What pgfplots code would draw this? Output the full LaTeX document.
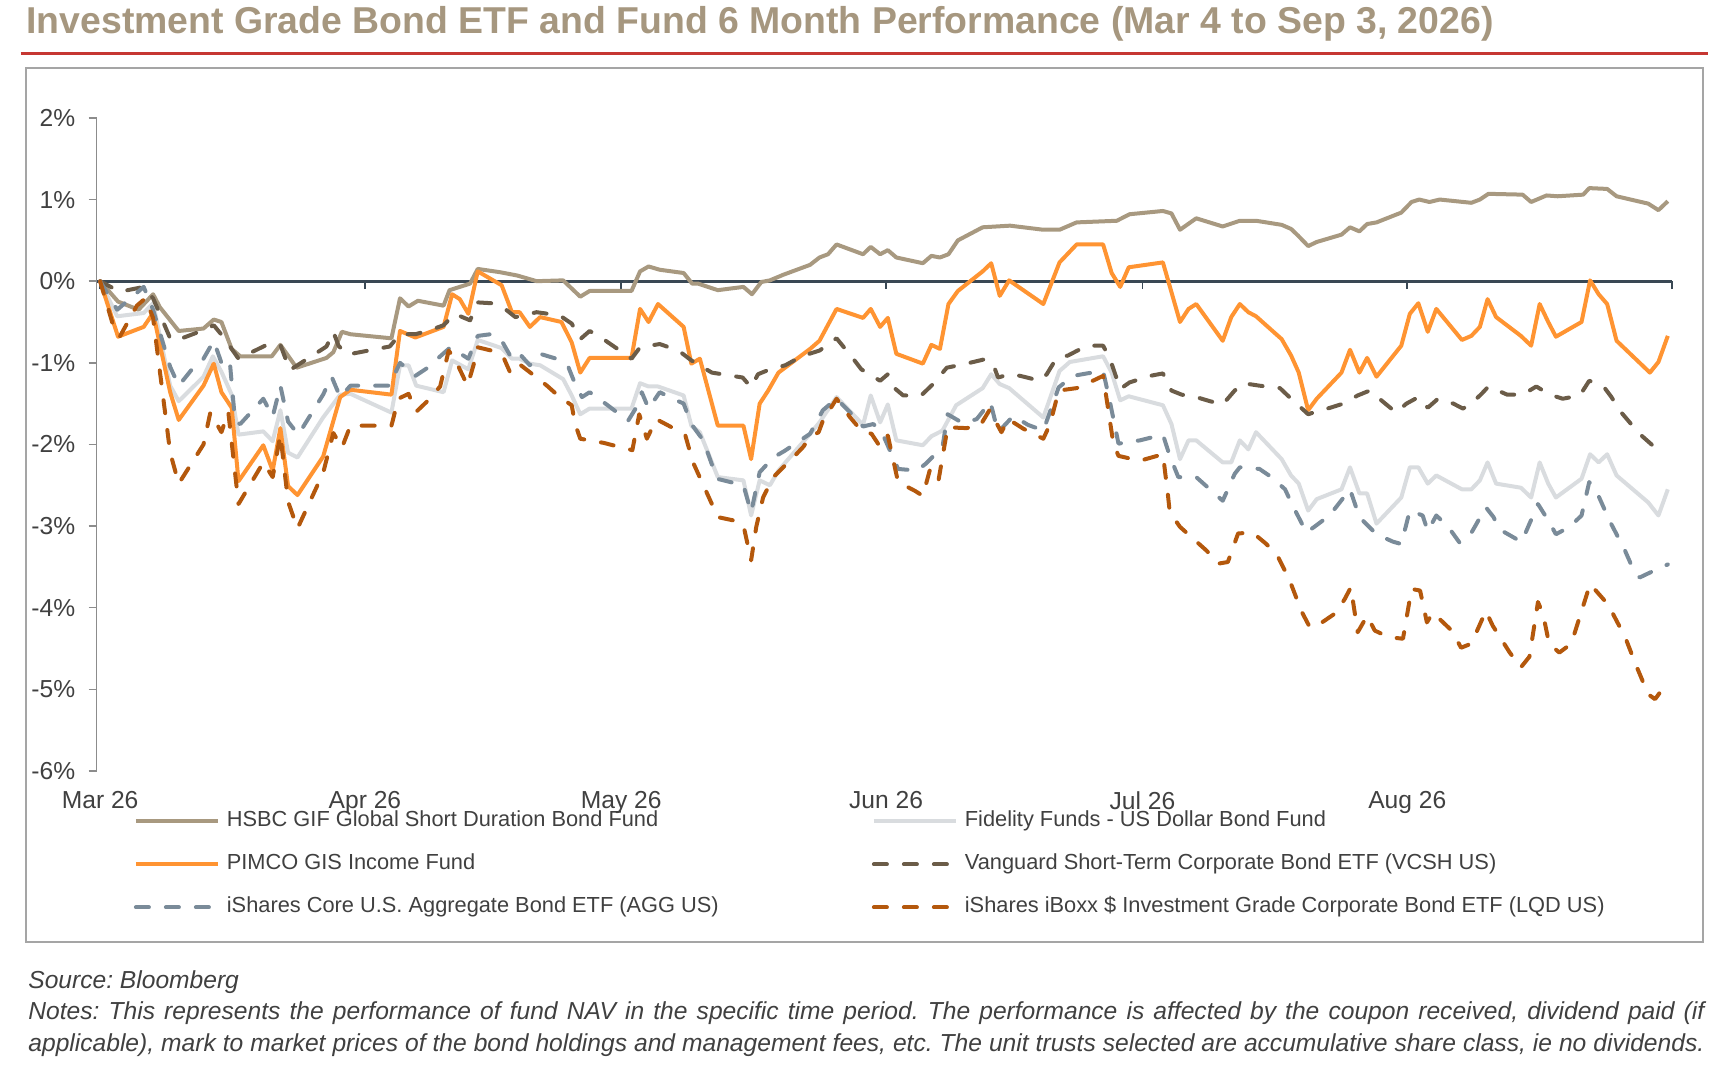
\documentclass[border=0pt]{standalone}
\usepackage{fontspec}
\setmainfont{Liberation Sans}
\usepackage{pgfplots}
\pgfplotsset{compat=1.18}
\definecolor{titlec}{RGB}{166,151,127}
\definecolor{redc}{RGB}{198,55,50}
\definecolor{framec}{RGB}{165,165,165}
\definecolor{txtc}{RGB}{64,64,64}
\definecolor{zeroc}{RGB}{58,72,84}
\definecolor{axisc}{RGB}{140,140,140}
\definecolor{hsbc}{RGB}{168,153,128}
\definecolor{fid}{RGB}{217,220,223}
\definecolor{pimco}{RGB}{255,148,50}
\definecolor{vcsh}{RGB}{107,92,72}
\definecolor{agg}{RGB}{122,139,153}
\definecolor{lqd}{RGB}{180,88,12}
\frenchspacing
\begin{document}
\begin{tikzpicture}[x=1pt,y=1pt]
\useasboundingbox (0,0) rectangle (857.5,534.5);
\node[anchor=base west, inner sep=0pt, text=titlec, font=\fontsize{18.7}{20}\selectfont\bfseries] at (13,517.5) {Investment Grade Bond ETF and Fund 6 Month Performance (Mar 4 to Sep 3, 2026)};
\draw[redc, line width=1.65pt] (10.3,507.85) -- (854,507.85);
\draw[framec, line width=1pt] (13,63.65) rectangle (851.5,500.35);
\begin{axis}[
  at={(48.35pt,149pt)}, anchor=south west, scale only axis,
  width=787.7pt, height=326.55pt,
  xmin=-0.4, xmax=184, ymin=-6, ymax=2,
  enlargelimits=false, clip=false,
  axis x line=middle, axis y line=left,
  axis line style={-},
  x axis line style={draw=zeroc, line width=1.4pt},
  y axis line style={draw=axisc, line width=0.75pt},
  xtick={0,31,61,92,122,153,184},
  xticklabels={Mar 26,Apr 26,May 26,Jun 26,Jul 26,Aug 26,},
  ytick={-6,-5,-4,-3,-2,-1,0,1,2},
  yticklabels={-6\%,-5\%,-4\%,-3\%,-2\%,-1\%,0\%,1\%,2\%},
  tick align=outside, major tick length=4pt,
  x tick style={draw=zeroc, line width=0.9pt},
  y tick style={draw=axisc, line width=0.75pt},
  ticklabel style={font=\fontsize{12.3}{14}\selectfont, text=txtc},
  xticklabel style={yshift=-247.7pt},
  yticklabel style={xshift=-3.25pt},
  legend columns=2,
  legend cell align=left,
  legend style={at={(0.02361,-0.06125)}, anchor=north west, draw=none, fill=none,
    inner sep=0pt, outer sep=0pt, column sep=3.5pt, row sep=11pt,
    font=\fontsize{10.9}{12}\selectfont, text=txtc,
    nodes={inner sep=0pt, text height=8pt, text depth=2.5pt}},
  legend image code/.code={\draw[#1] (0pt,0pt) -- (41pt,0pt);},
  every axis plot/.append style={line width=2pt, line join=round},
]
\addplot[hsbc] coordinates {(0,0) (2.1,-0.25) (4.5,-0.35) (6.2,-0.16) (7.0,-0.32) (9.2,-0.61) (12.1,-0.58) (13.3,-0.47) (14.2,-0.50) (15.4,-0.83) (16.4,-0.92) (20.1,-0.92) (21.1,-0.78) (23.0,-1.06) (26.5,-0.94) (27.3,-0.87) (28.3,-0.62) (29.3,-0.65) (34.1,-0.70) (35.1,-0.21) (36.1,-0.31) (37.2,-0.24) (40.2,-0.30) (40.9,-0.11) (43.3,-0.03) (44.2,0.15) (46.8,0.11) (48.8,0.07) (51.1,0.0) (54.2,0.01) (56.2,-0.19) (57.3,-0.12) (62.2,-0.12) (63.2,0.12) (64.2,0.18) (65.5,0.14) (68.3,0.10) (69.3,-0.03) (70.0,-0.03) (72.3,-0.11) (75.3,-0.07) (76.3,-0.16) (77.4,-0.01) (78.4,0.01) (80.0,0.08) (83.1,0.20) (84.2,0.29) (85.2,0.33) (86.2,0.45) (89.3,0.33) (90.2,0.42) (91.3,0.33) (92.2,0.38) (93.2,0.29) (96.3,0.22) (97.3,0.31) (98.3,0.29) (99.3,0.33) (100.4,0.50) (103.3,0.66) (106.5,0.68) (110.4,0.63) (112.3,0.63) (114.3,0.72) (119.0,0.74) (120.5,0.82) (124.4,0.86) (125.4,0.83) (126.4,0.63) (128.3,0.77) (131.4,0.67) (133.4,0.74) (135.3,0.74) (138.3,0.69) (139.4,0.64) (140.2,0.56) (141.4,0.43) (142.4,0.48) (145.3,0.57) (146.3,0.66) (147.4,0.61) (148.3,0.70) (149.4,0.72) (152.3,0.84) (153.5,0.97) (154.4,1.00) (155.6,0.97) (156.8,1.00) (160.5,0.96) (161.5,1.00) (162.5,1.07) (166.5,1.06) (167.5,0.97) (169.3,1.05) (170.6,1.04) (173.6,1.06) (174.3,1.14) (176.4,1.13) (177.5,1.04) (181.2,0.95) (182.4,0.87) (183.5,0.98)};
\addlegendentry{\makebox[319pt][l]{HSBC GIF Global Short Duration Bond Fund}}
\addplot[fid] coordinates {(0,0) (2.0,-0.43) (5.1,-0.39) (6.2,-0.27) (8.2,-1.28) (9.2,-1.47) (12.1,-1.17) (13.2,-0.92) (14.2,-1.11) (15.4,-1.39) (16.2,-1.88) (19.1,-1.84) (20.2,-1.96) (21.1,-1.58) (22.0,-2.10) (23.1,-2.16) (26.1,-1.67) (28.1,-1.39) (29.3,-1.38) (34.1,-1.61) (35.1,-1.03) (36.1,-1.03) (37.0,-1.28) (40.2,-1.36) (41.2,-0.97) (43.1,-1.08) (44.2,-0.72) (47.0,-0.82) (48.2,-0.95) (49.1,-0.95) (50.3,-1.01) (51.5,-1.03) (54.2,-1.20) (55.2,-1.40) (56.2,-1.63) (57.3,-1.56) (62.2,-1.56) (63.2,-1.25) (64.2,-1.29) (65.3,-1.29) (68.3,-1.40) (69.2,-1.77) (70.2,-1.85) (72.3,-2.40) (75.3,-2.44) (76.2,-2.87) (77.2,-2.44) (78.4,-2.50) (79.4,-2.32) (83.1,-1.87) (84.2,-1.73) (86.2,-1.42) (89.3,-1.76) (90.2,-1.40) (91.3,-1.73) (92.2,-1.51) (93.2,-1.95) (96.3,-2.01) (97.3,-1.90) (98.6,-1.83) (100.2,-1.52) (103.3,-1.31) (104.3,-1.14) (105.3,-1.26) (106.4,-1.31) (110.4,-1.67) (112.3,-1.10) (113.5,-0.99) (117.4,-0.92) (118.4,-1.12) (119.4,-1.46) (120.4,-1.41) (124.4,-1.52) (125.4,-1.75) (126.4,-2.18) (127.4,-1.95) (128.3,-1.95) (131.4,-2.22) (132.4,-2.22) (133.4,-1.95) (134.4,-2.06) (135.3,-1.85) (138.3,-2.18) (139.4,-2.38) (140.3,-2.48) (141.4,-2.81) (142.4,-2.67) (145.3,-2.55) (146.3,-2.28) (147.4,-2.60) (148.3,-2.60) (149.4,-2.97) (152.3,-2.65) (153.3,-2.28) (154.3,-2.28) (155.4,-2.48) (156.4,-2.38) (159.4,-2.55) (160.5,-2.55) (161.5,-2.44) (162.4,-2.22) (163.4,-2.48) (166.3,-2.53) (167.5,-2.65) (168.5,-2.22) (169.5,-2.48) (170.4,-2.65) (173.4,-2.42) (174.4,-2.12) (175.4,-2.22) (176.4,-2.12) (177.5,-2.38) (181.2,-2.71) (182.4,-2.87) (183.5,-2.55)};
\addlegendentry{Fidelity Funds - US Dollar Bond Fund}
\addplot[pimco] coordinates {(0,0) (2.1,-0.68) (5.1,-0.56) (6.2,-0.39) (8.2,-1.36) (9.2,-1.70) (12.1,-1.28) (13.3,-1.01) (14.2,-1.36) (15.4,-1.55) (16.2,-2.45) (19.1,-2.01) (20.2,-2.32) (21.1,-1.80) (22.0,-2.51) (23.1,-2.62) (26.1,-2.15) (28.1,-1.42) (29.3,-1.33) (34.1,-1.39) (35.1,-0.61) (36.9,-0.69) (40.2,-0.56) (41.2,-0.16) (42.1,-0.22) (43.1,-0.40) (44.2,0.12) (47.0,-0.05) (48.2,-0.38) (49.1,-0.38) (50.3,-0.56) (51.5,-0.44) (54.0,-0.50) (55.2,-0.75) (56.2,-1.12) (57.3,-0.94) (62.2,-0.94) (63.2,-0.34) (64.2,-0.50) (65.3,-0.28) (68.3,-0.56) (69.2,-1.01) (70.2,-0.95) (72.3,-1.77) (75.3,-1.77) (76.2,-2.18) (77.2,-1.50) (78.2,-1.34) (79.4,-1.12) (83.1,-0.83) (84.2,-0.73) (86.2,-0.34) (89.3,-0.45) (90.2,-0.34) (91.3,-0.56) (92.2,-0.45) (93.2,-0.89) (96.3,-1.01) (97.3,-0.78) (98.3,-0.83) (99.3,-0.28) (100.4,-0.12) (103.3,0.12) (104.3,0.22) (105.3,-0.18) (106.4,0.01) (110.4,-0.28) (112.3,0.23) (114.3,0.45) (117.4,0.45) (118.4,0.10) (119.4,-0.07) (120.4,0.17) (124.4,0.23) (126.4,-0.50) (127.4,-0.34) (128.3,-0.28) (131.4,-0.73) (132.4,-0.44) (133.4,-0.28) (134.4,-0.38) (135.3,-0.43) (138.3,-0.71) (139.4,-0.91) (140.3,-1.12) (141.4,-1.58) (142.4,-1.44) (145.3,-1.12) (146.3,-0.84) (147.4,-1.12) (148.3,-0.94) (149.4,-1.17) (152.3,-0.79) (153.3,-0.40) (154.3,-0.27) (155.4,-0.62) (156.4,-0.34) (159.4,-0.72) (160.5,-0.67) (161.5,-0.56) (162.4,-0.22) (163.4,-0.44) (166.3,-0.67) (167.5,-0.79) (168.5,-0.28) (169.5,-0.50) (170.4,-0.68) (173.4,-0.50) (174.4,0.01) (175.4,-0.16) (176.4,-0.28) (177.5,-0.73) (181.4,-1.12) (182.4,-0.99) (183.5,-0.67)};
\addlegendentry{\makebox[319pt][l]{PIMCO GIS Income Fund}}
\addplot[vcsh, line cap=round, dash pattern=on 6.5pt off 8.5pt] coordinates {(0,0) (2.3,-0.13) (5.1,-0.07) (6.2,-0.21) (8.2,-0.70) (8.8,-0.73) (12.1,-0.60) (13.3,-0.54) (14.4,-0.68) (16.2,-0.95) (19.3,-0.79) (21.1,-0.78) (22.2,-1.09) (26.5,-0.80) (27.3,-0.62) (27.9,-0.79) (28.9,-0.90) (33.9,-0.80) (35.1,-0.65) (36.9,-0.65) (38.6,-0.60) (40.2,-0.54) (41.5,-0.40) (43.3,-0.48) (44.2,-0.26) (45.8,-0.27) (47.4,-0.34) (48.6,-0.44) (51.1,-0.38) (53.8,-0.42) (55.2,-0.52) (56.2,-0.71) (57.3,-0.61) (58.9,-0.71) (60.7,-0.84) (62.2,-0.95) (63.2,-0.81) (65.5,-0.77) (67.7,-0.85) (69.2,-0.97) (71.6,-1.12) (75.2,-1.18) (76.2,-1.30) (77.0,-1.14) (78.4,-1.08) (80.2,-1.03) (82.1,-0.92) (84.2,-0.85) (86.2,-0.70) (88.0,-0.93) (89.1,-1.08) (91.3,-1.22) (92.2,-1.14) (93.1,-1.32) (94.0,-1.40) (96.1,-1.40) (97.5,-1.26) (99.1,-1.06) (101.4,-1.01) (103.4,-0.96) (104.5,-1.01) (105.1,-1.18) (106.5,-1.14) (107.7,-1.16) (110.0,-1.22) (110.8,-1.14) (111.9,-0.95) (113.3,-0.91) (115.5,-0.79) (117.4,-0.79) (118.2,-0.95) (119.4,-1.32) (120.5,-1.24) (122.9,-1.16) (124.4,-1.13) (125.4,-1.34) (126.6,-1.39) (128.3,-1.42) (129.9,-1.47) (131.4,-1.51) (132.8,-1.34) (133.8,-1.25) (135.7,-1.28) (138.1,-1.31) (139.2,-1.42) (141.4,-1.63) (142.0,-1.61) (144.0,-1.55) (145.5,-1.50) (147.2,-1.40) (148.6,-1.34) (150.2,-1.48) (151.7,-1.61) (152.9,-1.50) (154.3,-1.42) (155.4,-1.55) (156.6,-1.44) (158.4,-1.50) (159.5,-1.56) (160.3,-1.52) (161.7,-1.38) (162.5,-1.29) (164.7,-1.39) (166.5,-1.39) (168.1,-1.29) (169.7,-1.39) (171.2,-1.44) (173.2,-1.40) (174.3,-1.22) (175.9,-1.28) (176.9,-1.42) (177.9,-1.59) (179.2,-1.75) (180.4,-1.89) (181.7,-2.01) (183.3,-1.93)};
\addlegendentry{Vanguard Short-Term Corporate Bond ETF (VCSH US)}
\addplot[agg, line cap=round, dash pattern=on 6.5pt off 8.5pt] coordinates {(0,0) (2.0,-0.35) (5.1,-0.07) (6.2,-0.35) (8.2,-1.05) (9.2,-1.28) (10.9,-1.06) (12.1,-0.95) (13.3,-0.73) (14.4,-1.06) (15.2,-1.01) (15.8,-1.72) (16.4,-1.75) (19.1,-1.44) (20.2,-1.66) (21.1,-1.28) (22.0,-1.72) (23.2,-1.88) (26.1,-1.39) (27.1,-1.17) (28.1,-1.42) (29.3,-1.28) (33.9,-1.28) (34.3,-1.18) (35.1,-1.00) (36.9,-1.16) (38.2,-1.07) (41.0,-0.81) (43.1,-0.95) (44.2,-0.67) (45.7,-0.65) (46.9,-0.71) (48.2,-0.95) (49.1,-0.89) (50.3,-1.03) (51.5,-0.89) (53.4,-0.95) (54.8,-1.05) (55.6,-1.26) (56.4,-1.42) (57.3,-1.36) (58.9,-1.48) (61.8,-1.71) (62.8,-1.54) (63.4,-1.36) (64.2,-1.56) (65.5,-1.36) (68.3,-1.50) (69.2,-1.75) (70.6,-1.95) (72.2,-2.42) (75.3,-2.50) (76.2,-2.83) (77.2,-2.34) (78.8,-2.16) (80.1,-2.08) (83.1,-1.87) (84.6,-1.58) (86.2,-1.44) (88.0,-1.63) (89.3,-1.78) (90.5,-1.75) (91.5,-1.85) (93.4,-2.30) (95.6,-2.32) (96.6,-2.24) (98.6,-2.03) (99.2,-1.63) (101.0,-1.74) (102.6,-1.69) (104.2,-1.48) (105.1,-1.85) (106.9,-1.65) (108.6,-1.76) (110.4,-1.83) (112.2,-1.30) (113.9,-1.16) (115.5,-1.13) (117.4,-1.10) (118.2,-1.48) (119.2,-1.99) (121.7,-1.95) (124.4,-1.88) (125.2,-2.14) (126.2,-2.40) (128.3,-2.40) (131.4,-2.69) (132.8,-2.36) (133.4,-2.28) (135.7,-2.30) (137.1,-2.40) (138.7,-2.55) (139.4,-2.71) (141.2,-3.08) (142.5,-2.98) (143.9,-2.87) (146.3,-2.55) (147.4,-2.89) (149.4,-3.10) (151.3,-3.19) (152.3,-3.22) (153.3,-2.81) (154.8,-2.87) (155.4,-3.06) (156.4,-2.87) (157.8,-3.01) (159.1,-3.20) (160.3,-3.12) (162.2,-2.77) (163.1,-2.89) (163.8,-3.04) (165.8,-3.16) (166.4,-3.19) (168.3,-2.73) (169.5,-2.93) (170.4,-3.10) (172.0,-3.01) (173.4,-2.87) (174.3,-2.46) (175.3,-2.61) (176.7,-2.94) (177.6,-3.12) (178.4,-3.28) (179.2,-3.47) (180.2,-3.63) (181.4,-3.57) (183.5,-3.47)};
\addlegendentry{\makebox[319pt][l]{iShares Core U.S. Aggregate Bond ETF (AGG US)}}
\addplot[lqd, line cap=round, dash pattern=on 6.5pt off 8.5pt] coordinates {(0,0) (1.6,-0.57) (2.3,-0.68) (4.3,-0.30) (5.3,-0.21) (6.2,-0.45) (8.2,-2.10) (9.2,-2.48) (12.1,-2.00) (12.9,-1.61) (14.2,-1.85) (15.0,-1.60) (16.2,-2.73) (19.1,-2.22) (20.2,-2.40) (21.1,-1.88) (22.0,-2.70) (23.1,-3.03) (26.1,-2.35) (27.3,-1.86) (28.3,-2.04) (29.3,-1.77) (34.1,-1.77) (34.9,-1.44) (36.1,-1.38) (37.0,-1.60) (38.2,-1.48) (39.8,-1.29) (40.8,-0.85) (41.6,-0.97) (43.0,-1.28) (43.7,-1.03) (44.2,-0.81) (45.8,-0.85) (47.2,-0.93) (48.0,-1.12) (49.0,-1.01) (51.1,-1.18) (52.3,-1.28) (53.8,-1.42) (55.2,-1.52) (55.6,-1.75) (56.2,-1.93) (58.9,-1.98) (62.3,-2.07) (63.1,-1.63) (64.0,-1.93) (65.1,-1.69) (66.9,-1.79) (68.5,-1.89) (69.4,-2.22) (72.3,-2.89) (74.1,-2.93) (75.3,-2.99) (76.2,-3.42) (76.8,-3.01) (77.6,-2.65) (78.8,-2.40) (81.3,-2.14) (82.3,-2.03) (83.1,-1.91) (84.1,-1.85) (84.6,-1.71) (86.2,-1.44) (87.8,-1.67) (89.1,-1.83) (90.3,-1.87) (91.3,-2.03) (92.2,-1.89) (93.4,-2.46) (95.4,-2.57) (96.3,-2.63) (97.1,-2.32) (98.1,-2.46) (99.2,-1.79) (101.4,-1.80) (103.0,-1.77) (104.1,-1.58) (105.5,-1.85) (106.3,-1.69) (108.1,-1.81) (110.4,-1.93) (111.2,-1.75) (112.2,-1.34) (114.3,-1.31) (115.6,-1.25) (117.4,-1.16) (118.6,-1.99) (119.2,-2.14) (121.7,-2.20) (124.4,-2.12) (125.0,-2.63) (125.2,-2.83) (126.4,-3.01) (129.5,-3.30) (130.9,-3.46) (132.0,-3.44) (133.2,-3.09) (134.9,-3.08) (136.4,-3.21) (137.7,-3.34) (138.6,-3.53) (139.4,-3.71) (140.6,-4.04) (141.6,-4.24) (142.6,-4.21) (144.7,-4.06) (145.7,-3.89) (146.4,-3.75) (147.2,-4.30) (148.3,-4.10) (149.2,-4.28) (150.8,-4.36) (152.5,-4.38) (153.5,-3.77) (154.5,-3.79) (155.3,-4.18) (156.0,-4.06) (158.2,-4.28) (159.3,-4.49) (160.5,-4.44) (162.2,-4.04) (163.0,-4.22) (165.0,-4.55) (166.3,-4.73) (167.3,-4.60) (168.3,-3.93) (168.9,-4.08) (169.6,-4.44) (170.8,-4.55) (172.2,-4.44) (174.4,-3.71) (176.5,-3.96) (178.5,-4.36) (179.8,-4.71) (181.2,-5.06) (182.0,-5.12) (183.5,-4.91)};
\addlegendentry{iShares iBoxx \$ Investment Grade Corporate Bond ETF (LQD US)}
\end{axis}
\node[anchor=base west, inner sep=0pt, text=txtc, font=\fontsize{12.3}{14}\selectfont\itshape] at (14,40) {Source: Bloomberg};
\node[anchor=base west, inner sep=0pt, text=txtc, font=\fontsize{12.3}{14}\selectfont\itshape] at (14,24.5) {\makebox[838pt][s]{Notes: This represents the performance of fund NAV in the specific time period. The performance is affected by the coupon received, dividend paid (if}};
\node[anchor=base west, inner sep=0pt, text=txtc, font=\fontsize{12.3}{14}\selectfont\itshape] at (14,8.5) {\makebox[838pt][s]{applicable), mark to market prices of the bond holdings and management fees, etc. The unit trusts selected are accumulative share class, ie no dividends.}};
\end{tikzpicture}
\end{document}
